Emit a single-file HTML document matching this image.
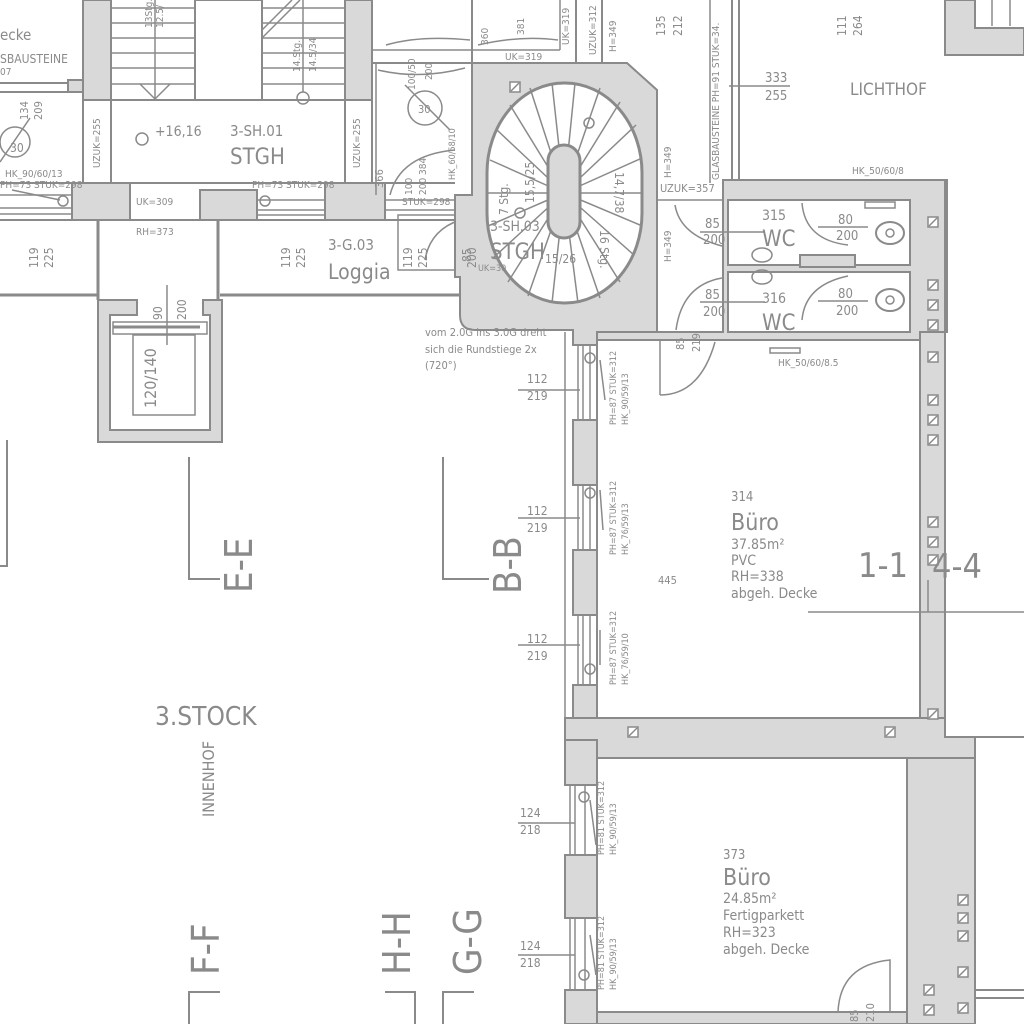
<!DOCTYPE html>
<html><head><meta charset="utf-8"><style>
html,body{margin:0;padding:0;background:#fff;}
svg{display:block;}
text{font-family:"Liberation Sans Narrow","DejaVu Sans Condensed","Liberation Sans",sans-serif;fill:#8a8a8a;}
</style></head><body>
<svg width="1024" height="1024" viewBox="0 0 1024 1024" xmlns="http://www.w3.org/2000/svg">
<defs>
<g id="sq"><rect x="-5" y="-5" width="10" height="10" fill="#fff" stroke="#8a8a8a" stroke-width="1.5"/><line x1="-4" y1="4" x2="4" y2="-4" stroke="#8a8a8a" stroke-width="1.5"/></g>
</defs>
<rect width="1024" height="1024" fill="#fff"/>
<g stroke="#8a8a8a" stroke-width="2" fill="none">

<!-- top-left walls -->
<rect x="83" y="0" width="28" height="100" fill="#d9d9d9"/>
<rect x="345" y="0" width="27" height="100" fill="#d9d9d9"/>
<line x1="83" y1="100" x2="83" y2="183"/><line x1="111" y1="100" x2="111" y2="183"/>
<line x1="345" y1="100" x2="345" y2="183"/><line x1="372" y1="100" x2="372" y2="183"/>
<line x1="0" y1="83" x2="83" y2="83"/><line x1="0" y1="92" x2="70" y2="92"/>
<rect x="68" y="80" width="15" height="12" fill="#d9d9d9"/>
<!-- stair flights -->
<rect x="195" y="0" width="67" height="100"/>
<line x1="111" y1="100" x2="345" y2="100"/>
<g stroke-width="1.5">
<line x1="111" y1="8" x2="195" y2="8"/><line x1="111" y1="23" x2="195" y2="23"/><line x1="111" y1="38" x2="195" y2="38"/><line x1="111" y1="53" x2="195" y2="53"/><line x1="111" y1="68" x2="195" y2="68"/><line x1="111" y1="84" x2="195" y2="84"/>
<line x1="262" y1="8" x2="345" y2="8"/><line x1="262" y1="23" x2="345" y2="23"/><line x1="262" y1="38" x2="345" y2="38"/><line x1="262" y1="53" x2="345" y2="53"/><line x1="262" y1="68" x2="345" y2="68"/><line x1="262" y1="84" x2="345" y2="84"/>
<line x1="155" y1="0" x2="155" y2="100"/><polyline points="140,84 155,99 170,84"/>
<line x1="303" y1="0" x2="303" y2="92"/><circle cx="303" cy="98" r="6"/>
<line x1="262" y1="38" x2="300" y2="0"/><line x1="262" y1="30" x2="292" y2="0"/>
</g>
<!-- left small room door -->
<circle cx="15" cy="142" r="15" stroke-width="1.5"/>
<line x1="0" y1="162" x2="30" y2="118" stroke-width="1.5"/>
<!-- window band -->
<line x1="0" y1="183" x2="455" y2="183"/>
<line x1="0" y1="220" x2="460" y2="220"/>
<g stroke-width="1.5">
<line x1="0" y1="195" x2="72" y2="195"/><line x1="0" y1="208" x2="72" y2="208"/><line x1="0" y1="214" x2="72" y2="214"/>
<line x1="257" y1="200" x2="325" y2="200"/><line x1="257" y1="210" x2="325" y2="210"/><line x1="257" y1="215" x2="325" y2="215"/>
<line x1="385" y1="200" x2="455" y2="200"/><line x1="385" y1="210" x2="455" y2="210"/>
<circle cx="63" cy="201" r="5"/><circle cx="265" cy="201" r="5"/>
<line x1="12" y1="190" x2="60" y2="200"/>
</g>
<rect x="72" y="183" width="58" height="37" fill="#d9d9d9"/>
<rect x="200" y="190" width="57" height="30" fill="#d9d9d9"/>
<rect x="325" y="183" width="60" height="37" fill="#d9d9d9"/>
<!-- loggia / lower lines -->
<line x1="98" y1="220" x2="98" y2="300" stroke-width="3"/><line x1="218" y1="220" x2="218" y2="300" stroke-width="3"/>
<line x1="0" y1="295" x2="98" y2="295" stroke-width="3"/><line x1="220" y1="295" x2="460" y2="295" stroke-width="3"/>
<!-- elevator -->
<path d="M98,300 H137 V315 H110 V430 H210 V315 H203 V300 H222 V442 H98 Z" fill="#d9d9d9"/>
<rect x="133" y="335" width="62" height="80" stroke-width="1.5"/>
<rect x="113" y="322" width="94" height="12" stroke-width="1.5"/>
<line x1="113" y1="327" x2="200" y2="327" stroke-width="3"/>
<line x1="167" y1="285" x2="167" y2="345" stroke-width="1.5"/>

<!-- top middle small room -->
<line x1="372" y1="63" x2="472" y2="63"/>
<line x1="372" y1="50" x2="560" y2="50" stroke-width="1.5"/>
<line x1="472" y1="0" x2="472" y2="63"/><line x1="560" y1="0" x2="560" y2="50" stroke-width="1.5"/>
<line x1="576" y1="0" x2="576" y2="63"/><line x1="602" y1="0" x2="602" y2="63"/>
<path d="M386,45 Q420,35 470,40" stroke-width="1.5"/><path d="M478,45 Q520,35 558,40" stroke-width="1.5"/>
<line x1="376" y1="63" x2="376" y2="195" stroke-width="1.5"/>
<path d="M378,70 Q420,80 465,68" stroke-width="1.5"/>
<circle cx="425" cy="108" r="17" stroke-width="1.5"/>
<line x1="405" y1="85" x2="450" y2="130" stroke-width="1.5"/>
<path d="M390,195 Q400,155 455,150" stroke-width="1.5"/>
<path d="M425,260 Q430,230 460,220" stroke-width="1.5"/>
<rect x="398" y="215" width="62" height="55" stroke-width="1.5"/>

<!-- spiral stair gray -->
<path d="M472,63 H627 L657,90 V333 H597 V345 H573 V330 H475 Q460,330 460,315 V277 H455 V195 H472 Z" fill="#d9d9d9"/>
<rect x="487" y="83" width="155" height="220" rx="77" ry="90" fill="#fff" stroke-width="3"/>
<g stroke-width="1.5">
<line x1="564" y1="193" x2="487" y2="193"/><line x1="564" y1="193" x2="642" y2="193"/>
<line x1="564" y1="193" x2="490" y2="160"/><line x1="564" y1="193" x2="497" y2="130"/><line x1="564" y1="193" x2="510" y2="105"/><line x1="564" y1="193" x2="530" y2="88"/><line x1="564" y1="193" x2="552" y2="83"/><line x1="564" y1="193" x2="575" y2="83"/><line x1="564" y1="193" x2="600" y2="88"/><line x1="564" y1="193" x2="620" y2="102"/><line x1="564" y1="193" x2="636" y2="125"/><line x1="564" y1="193" x2="642" y2="158"/>
<line x1="564" y1="193" x2="640" y2="225"/><line x1="564" y1="193" x2="634" y2="255"/><line x1="564" y1="193" x2="620" y2="282"/><line x1="564" y1="193" x2="600" y2="298"/><line x1="564" y1="193" x2="578" y2="303"/><line x1="564" y1="193" x2="552" y2="303"/><line x1="564" y1="193" x2="528" y2="296"/><line x1="564" y1="193" x2="508" y2="282"/><line x1="564" y1="193" x2="493" y2="258"/><line x1="564" y1="193" x2="488" y2="226"/>
<circle cx="589" cy="123" r="5"/><circle cx="520" cy="213" r="5"/>
</g>
<rect x="548" y="145" width="32" height="93" rx="16" fill="#d9d9d9" stroke-width="3"/>

<!-- right of stair -->
<line x1="657" y1="200" x2="725" y2="200" stroke-width="1.5"/>
<line x1="732" y1="0" x2="732" y2="180"/><line x1="739" y1="0" x2="739" y2="180"/>
<line x1="729" y1="86" x2="790" y2="86" stroke-width="1.5"/>
<line x1="710" y1="0" x2="710" y2="183" stroke-width="1.5"/>
<path d="M675,205 Q680,235 722,246" stroke-width="1.5"/>
<path d="M722,278 Q682,285 676,330" stroke-width="1.5"/>
<!-- top right -->
<path d="M945,0 V55 H1024 V28 H975 V0 Z" fill="#d9d9d9"/>
<line x1="992" y1="0" x2="992" y2="26" stroke-width="1.5"/><line x1="1010" y1="0" x2="1010" y2="26" stroke-width="1.5"/>

<!-- WC block -->
<path d="M723,180 H947 V332 H920 V340 H597 V332 H723 Z" fill="#d9d9d9"/>
<rect x="728" y="200" width="182" height="65" fill="#fff"/>
<rect x="728" y="272" width="182" height="60" fill="#fff"/>
<rect x="800" y="255" width="55" height="12" fill="#d9d9d9"/>
<path d="M802,203 Q805,240 848,245" stroke-width="1.5"/>
<path d="M848,276 Q805,285 802,320" stroke-width="1.5"/>
<ellipse cx="890" cy="233" rx="14" ry="11" stroke-width="2"/><circle cx="890" cy="233" r="4" stroke-width="1.5"/>
<ellipse cx="890" cy="300" rx="14" ry="11" stroke-width="2"/><circle cx="890" cy="300" r="4" stroke-width="1.5"/>
<ellipse cx="762" cy="255" rx="10" ry="7" stroke-width="1.5"/><ellipse cx="762" cy="277" rx="10" ry="7" stroke-width="1.5"/>
<rect x="865" y="202" width="30" height="6" stroke-width="1.5"/>
<g stroke-width="1.5">
<line x1="700" y1="232" x2="765" y2="232"/><line x1="700" y1="302" x2="765" y2="302"/>
<line x1="818" y1="227" x2="868" y2="227"/><line x1="818" y1="301" x2="868" y2="301"/>
</g>
<!-- door to 314 -->
<path d="M660,395 Q700,395 715,342" stroke-width="1.5"/>
<line x1="660" y1="340" x2="660" y2="395" stroke-width="1.5"/>
<rect x="770" y="348" width="30" height="5" stroke-width="1.5"/>

<!-- right vertical wall -->
<rect x="920" y="332" width="25" height="386" fill="#d9d9d9"/>
<line x1="945" y1="180" x2="945" y2="740"/>
<line x1="945" y1="737" x2="1024" y2="737"/>

<!-- room 314 -->
<line x1="597" y1="340" x2="597" y2="718"/>
<line x1="597" y1="718" x2="920" y2="718"/>
<line x1="920" y1="340" x2="920" y2="718"/>
<!-- band between rooms -->
<path d="M565,718 H945 V737 H975 V758 H907 V758 H597 V758 H565 Z" fill="#d9d9d9"/>
<line x1="975" y1="758" x2="975" y2="1024"/>
<rect x="907" y="758" width="68" height="266" fill="#d9d9d9"/>
<line x1="975" y1="990" x2="1024" y2="990"/><line x1="975" y1="998" x2="1024" y2="998"/>
<!-- room 373 -->
<line x1="597" y1="758" x2="597" y2="1024"/>
<rect x="597" y="1012" width="310" height="12" fill="#d9d9d9"/>
<path d="M838,1012 Q840,965 890,960 V1012" stroke-width="1.5"/>
<!-- horizontal section line -->
<line x1="808" y1="612" x2="1024" y2="612" stroke-width="1.5"/>
<line x1="928" y1="580" x2="928" y2="612" stroke-width="1.5"/>

<!-- left facade wall of offices -->
<line x1="565" y1="332" x2="565" y2="740" stroke-width="1.5"/>
<rect x="573" y="420" width="24" height="65" fill="#d9d9d9"/>
<rect x="573" y="550" width="24" height="65" fill="#d9d9d9"/>
<rect x="573" y="685" width="24" height="33" fill="#d9d9d9"/>
<rect x="565" y="740" width="32" height="45" fill="#d9d9d9"/>
<rect x="565" y="855" width="32" height="63" fill="#d9d9d9"/>
<rect x="565" y="990" width="32" height="34" fill="#d9d9d9"/>
<g stroke-width="1.5">
<line x1="578" y1="345" x2="578" y2="420"/><line x1="583" y1="345" x2="583" y2="420"/><line x1="590" y1="345" x2="590" y2="420"/>
<line x1="578" y1="485" x2="578" y2="550"/><line x1="583" y1="485" x2="583" y2="550"/><line x1="590" y1="485" x2="590" y2="550"/>
<line x1="578" y1="615" x2="578" y2="685"/><line x1="583" y1="615" x2="583" y2="685"/><line x1="590" y1="615" x2="590" y2="685"/>
<line x1="570" y1="785" x2="570" y2="855"/><line x1="575" y1="785" x2="575" y2="855"/><line x1="585" y1="785" x2="585" y2="855"/>
<line x1="570" y1="918" x2="570" y2="990"/><line x1="575" y1="918" x2="575" y2="990"/><line x1="585" y1="918" x2="585" y2="990"/>
<circle cx="590" cy="358" r="5"/><circle cx="590" cy="493" r="5"/><circle cx="590" cy="669" r="5"/>
<circle cx="584" cy="797" r="5"/><circle cx="584" cy="975" r="5"/>
<line x1="600" y1="360" x2="605" y2="400"/><line x1="600" y1="490" x2="603" y2="530"/><line x1="600" y1="630" x2="600" y2="665"/>
<line x1="590" y1="800" x2="596" y2="845"/><line x1="590" y1="935" x2="596" y2="975"/>
<line x1="518" y1="390" x2="580" y2="390"/><line x1="518" y1="518" x2="580" y2="518"/><line x1="518" y1="645" x2="580" y2="645"/>
<line x1="518" y1="823" x2="575" y2="823"/><line x1="518" y1="955" x2="575" y2="955"/>
</g>

<!-- section marks -->
<g stroke-width="2">
<polyline points="7,440 7,566 0,566"/>
<polyline points="189,457 189,579 220,579"/>
<polyline points="443,457 443,579 489,579"/>
<polyline points="189,1024 189,992 220,992"/>
<polyline points="385,992 415,992 415,1024"/>
<polyline points="474,992 443,992 443,1024"/>
</g>
</g>

<!-- squares -->
<g>
<use href="#sq" x="515" y="87"/>
<use href="#sq" x="933" y="222"/><use href="#sq" x="933" y="285"/><use href="#sq" x="933" y="305"/><use href="#sq" x="933" y="325"/><use href="#sq" x="933" y="357"/><use href="#sq" x="933" y="400"/><use href="#sq" x="933" y="420"/><use href="#sq" x="933" y="440"/><use href="#sq" x="933" y="522"/><use href="#sq" x="933" y="542"/><use href="#sq" x="933" y="560"/><use href="#sq" x="933" y="714"/>
<use href="#sq" x="633" y="732"/><use href="#sq" x="890" y="732"/>
<use href="#sq" x="963" y="900"/><use href="#sq" x="963" y="918"/><use href="#sq" x="963" y="936"/><use href="#sq" x="963" y="972"/><use href="#sq" x="963" y="1008"/>
<use href="#sq" x="929" y="990"/><use href="#sq" x="929" y="1010"/>
</g>

<!-- TEXT -->
<g font-size="14">
<text x="0" y="40" font-size="15">ecke</text>
<text x="0" y="63" font-size="12">SBAUSTEINE</text>
<text x="0" y="75" font-size="10">07</text>
<text x="10" y="152" font-size="12">30</text>
<text transform="translate(28,120) rotate(-90)" font-size="11">134</text>
<text transform="translate(42,120) rotate(-90)" font-size="11">209</text>
<text x="5" y="177" font-size="10">HK_90/60/13</text>
<text x="0" y="188" font-size="10">PH=73  STUK=298</text>
<text transform="translate(100,168) rotate(-90)" font-size="10">UZUK=255</text>
<text transform="translate(360,168) rotate(-90)" font-size="10">UZUK=255</text>
<text transform="translate(152,28) rotate(-90)" font-size="10">13Stg.</text>
<text transform="translate(163,28) rotate(-90)" font-size="10">12.5/</text>
<text transform="translate(300,72) rotate(-90)" font-size="10">14.Stg.</text>
<text transform="translate(316,72) rotate(-90)" font-size="10">14.5/34</text>
<text x="155" y="136" font-size="14">+16,16</text>
<circle cx="142" cy="139" r="6" fill="none" stroke="#8a8a8a" stroke-width="1.5"/>
<text x="230" y="136" font-size="15">3-SH.01</text>
<text x="230" y="164" font-size="22">STGH</text>
<text x="252" y="188" font-size="10">PH=73   STUK=298</text>
<text x="136" y="205" font-size="10">UK=309</text>
<text x="136" y="235" font-size="10">RH=373</text>
<text x="402" y="205" font-size="10">STUK=298</text>
<text transform="translate(38,268) rotate(-90)" font-size="12">119</text>
<text transform="translate(53,268) rotate(-90)" font-size="12">225</text>
<text transform="translate(290,268) rotate(-90)" font-size="12">119</text>
<text transform="translate(305,268) rotate(-90)" font-size="12">225</text>
<text transform="translate(412,268) rotate(-90)" font-size="12">119</text>
<text transform="translate(427,268) rotate(-90)" font-size="12">225</text>
<text transform="translate(383,188) rotate(-90)" font-size="11">366</text>
<text transform="translate(412,195) rotate(-90)" font-size="10">100</text>
<text transform="translate(426,195) rotate(-90)" font-size="10">200 384</text>
<text transform="translate(455,180) rotate(-90)" font-size="9">HK_60/58/10</text>
<text transform="translate(415,90) rotate(-90)" font-size="10">100/50</text>
<text transform="translate(432,80) rotate(-90)" font-size="10">200</text>
<text x="418" y="113" font-size="11">30</text>
<text x="328" y="250" font-size="15">3-G.03</text>
<text x="328" y="279" font-size="21">Loggia</text>
<text transform="translate(471,262) rotate(-90)" font-size="12">85</text>
<text transform="translate(476,268) rotate(-90)" font-size="12">200</text>
<text x="478" y="271" font-size="9">UK=30</text>
<text transform="translate(162,320) rotate(-90)" font-size="12">90</text>
<text transform="translate(186,320) rotate(-90)" font-size="12">200</text>
<text transform="translate(156,408) rotate(-90)" font-size="16">120/140</text>
<text x="425" y="336" font-size="11">vom 2.0G ins 3.0G dreht</text>
<text x="425" y="353" font-size="11">sich die Rundstiege 2x</text>
<text x="425" y="369" font-size="11">(720°)</text>

<text transform="translate(488,45) rotate(-90)" font-size="10">360</text>
<text transform="translate(524,35) rotate(-90)" font-size="10">381</text>
<text x="505" y="60" font-size="10">UK=319</text>
<text transform="translate(569,45) rotate(-90)" font-size="10">UK=319</text>
<text transform="translate(596,55) rotate(-90)" font-size="10">UZUK=312</text>
<text transform="translate(616,52) rotate(-90)" font-size="10">H=349</text>
<text transform="translate(665,36) rotate(-90)" font-size="12">135</text>
<text transform="translate(682,36) rotate(-90)" font-size="12">212</text>
<text transform="translate(719,180) rotate(-90)" font-size="10">GLASBAUSTEINE PH=91  STUK=34.</text>
<text x="765" y="82" font-size="13">333</text>
<text x="765" y="100" font-size="13">255</text>
<text transform="translate(846,36) rotate(-90)" font-size="12">111</text>
<text transform="translate(862,36) rotate(-90)" font-size="12">264</text>
<text x="850" y="95" font-size="17">LICHTHOF</text>
<text x="852" y="174" font-size="10">HK_50/60/8</text>
<text transform="translate(671,178) rotate(-90)" font-size="10">H=349</text>
<text x="660" y="192" font-size="11">UZUK=357</text>
<text transform="translate(671,262) rotate(-90)" font-size="10">H=349</text>

<text x="490" y="231" font-size="14">3-SH.03</text>
<text x="490" y="259" font-size="22">STGH</text>
<text x="545" y="263" font-size="12">15/26</text>
<text transform="translate(508,215) rotate(-90)" font-size="12">7 Stg.</text>
<text transform="translate(534,203) rotate(-90)" font-size="12">15,5/25</text>
<text transform="translate(600,230) rotate(90)" font-size="12">16 Stg.</text>
<text transform="translate(615,172) rotate(90)" font-size="12">14,7/38</text>

<text x="762" y="220" font-size="14">315</text>
<text x="762" y="246" font-size="22">WC</text>
<text x="705" y="228" font-size="13">85</text>
<text x="703" y="244" font-size="13">200</text>
<text x="838" y="224" font-size="13">80</text>
<text x="836" y="240" font-size="13">200</text>
<text x="762" y="303" font-size="14">316</text>
<text x="762" y="330" font-size="22">WC</text>
<text x="705" y="299" font-size="13">85</text>
<text x="703" y="316" font-size="13">200</text>
<text x="838" y="298" font-size="13">80</text>
<text x="836" y="315" font-size="13">200</text>
<text transform="translate(684,350) rotate(-90)" font-size="11">85</text>
<text transform="translate(700,352) rotate(-90)" font-size="11">219</text>
<text x="778" y="366" font-size="10">HK_50/60/8.5</text>

<text x="731" y="501" font-size="13">314</text>
<text x="731" y="530" font-size="23">Büro</text>
<text x="731" y="549" font-size="14">37.85m²</text>
<text x="731" y="565" font-size="14">PVC</text>
<text x="731" y="581" font-size="14">RH=338</text>
<text x="731" y="598" font-size="14">abgeh. Decke</text>
<text x="658" y="584" font-size="11">445</text>
<text x="858" y="577" font-size="34">1-1</text>
<text x="932" y="578" font-size="34">4-4</text>

<text x="723" y="859" font-size="13">373</text>
<text x="723" y="885" font-size="23">Büro</text>
<text x="723" y="903" font-size="14">24.85m²</text>
<text x="723" y="920" font-size="14">Fertigparkett</text>
<text x="723" y="937" font-size="14">RH=323</text>
<text x="723" y="954" font-size="14">abgeh. Decke</text>
<text transform="translate(858,1022) rotate(-90)" font-size="11">85</text>
<text transform="translate(874,1022) rotate(-90)" font-size="11">210</text>

<text x="527" y="383" font-size="12">112</text><text x="527" y="400" font-size="12">219</text>
<text x="527" y="515" font-size="12">112</text><text x="527" y="532" font-size="12">219</text>
<text x="527" y="643" font-size="12">112</text><text x="527" y="660" font-size="12">219</text>
<text x="520" y="817" font-size="12">124</text><text x="520" y="834" font-size="12">218</text>
<text x="520" y="950" font-size="12">124</text><text x="520" y="967" font-size="12">218</text>
<text transform="translate(616,425) rotate(-90)" font-size="9">PH=87  STUK=312</text>
<text transform="translate(628,425) rotate(-90)" font-size="9">HK_90/59/13</text>
<text transform="translate(616,555) rotate(-90)" font-size="9">PH=87  STUK=312</text>
<text transform="translate(628,555) rotate(-90)" font-size="9">HK_76/59/13</text>
<text transform="translate(616,685) rotate(-90)" font-size="9">PH=87  STUK=312</text>
<text transform="translate(628,685) rotate(-90)" font-size="9">HK_76/59/10</text>
<text transform="translate(604,855) rotate(-90)" font-size="9">PH=81  STUK=312</text>
<text transform="translate(616,855) rotate(-90)" font-size="9">HK_90/59/13</text>
<text transform="translate(604,990) rotate(-90)" font-size="9">PH=81  STUK=312</text>
<text transform="translate(616,990) rotate(-90)" font-size="9">HK_90/59/13</text>

<text transform="translate(252,593) rotate(-90)" font-size="38">E-E</text>
<text transform="translate(521,594) rotate(-90)" font-size="38">B-B</text>
<text x="155" y="725" font-size="26">3.STOCK</text>
<text transform="translate(214,817) rotate(-90)" font-size="16">INNENHOF</text>
<text transform="translate(219,975) rotate(-90)" font-size="38">F-F</text>
<text transform="translate(410,975) rotate(-90)" font-size="38">H-H</text>
<text transform="translate(481,975) rotate(-90)" font-size="38">G-G</text>
</g>
</svg>
</body></html>
